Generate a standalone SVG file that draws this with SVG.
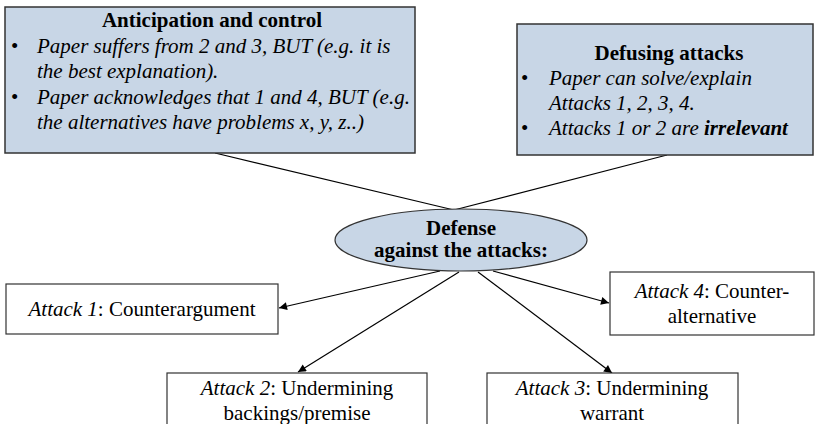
<svg xmlns="http://www.w3.org/2000/svg" width="815" height="424" viewBox="0 0 815 424">
<style>
text{font-family:'Liberation Serif',Tinos,'Times New Roman',Times,'DejaVu Serif','Noto Serif',serif;font-size:21px;fill:#000}
.b{font-weight:bold}
.i{font-style:italic}
.top{fill:#c8d6e6;stroke:#333;stroke-width:1.5}
.box{fill:#fff;stroke:#333;stroke-width:1.2}
.c{stroke:#000;stroke-width:1.2;fill:none}
</style>
<defs>
<marker id="ah" viewBox="0 0 10 10" refX="10" refY="5" markerWidth="11" markerHeight="8" markerUnits="userSpaceOnUse" orient="auto">
<path d="M0,0 L10,5 L0,10 z" fill="#000"/>
</marker>
</defs>
<rect width="815" height="424" fill="#fff"/>
<g id="connectors">
<line class="c" x1="215" y1="153" x2="454" y2="210"/>
<line class="c" x1="667" y1="155" x2="454" y2="210"/>
<line class="c" x1="440" y1="271" x2="279" y2="308" marker-end="url(#ah)"/>
<line class="c" x1="459" y1="272" x2="298" y2="372" marker-end="url(#ah)"/>
<line class="c" x1="478" y1="272" x2="612" y2="373" marker-end="url(#ah)"/>
<line class="c" x1="493" y1="271" x2="609" y2="303" marker-end="url(#ah)"/>
</g>
<g id="anticipation">
<rect class="top" x="5" y="7" width="410" height="146"/>
<text class="b" x="212" y="27" text-anchor="middle">Anticipation and control</text>
<text x="11" y="53">•</text>
<text class="i" x="37" y="53">Paper suffers from 2 and 3, BUT (e.g. it is</text>
<text class="i" x="37" y="78">the best explanation).</text>
<text x="11" y="104">•</text>
<text class="i" x="37" y="104">Paper acknowledges that 1 and 4, BUT (e.g.</text>
<text class="i" x="37" y="129">the alternatives have problems x, y, z..)</text>
</g>
<g id="defusing">
<rect class="top" x="517" y="24" width="296" height="131"/>
<text class="b" x="669" y="60" text-anchor="middle">Defusing attacks</text>
<text x="521" y="85">•</text>
<text class="i" x="549" y="85">Paper can solve/explain</text>
<text class="i" x="549" y="110">Attacks 1, 2, 3, 4.</text>
<text x="521" y="135">•</text>
<text class="i" x="549" y="135">Attacks 1 or 2 are <tspan class="b">irrelevant</tspan></text>
</g>
<g id="defense">
<ellipse cx="461" cy="240" rx="126" ry="31" fill="#c8d6e6" stroke="#333" stroke-width="1.2"/>
<text class="b" x="461" y="235" text-anchor="middle">Defense</text>
<text class="b" x="461" y="257" text-anchor="middle">against the attacks:</text>
</g>
<g id="attack1">
<rect class="box" x="6" y="284" width="272" height="50"/>
<text x="142" y="316" text-anchor="middle"><tspan class="i">Attack 1</tspan>: Counterargument</text>
</g>
<g id="attack2">
<rect class="box" x="167" y="373" width="260" height="60"/>
<text x="297" y="395" text-anchor="middle"><tspan class="i">Attack 2</tspan>: Undermining</text>
<text x="297" y="420" text-anchor="middle">backings/premise</text>
</g>
<g id="attack3">
<rect class="box" x="487" y="373" width="251" height="60"/>
<text x="612" y="395" text-anchor="middle"><tspan class="i">Attack 3</tspan>: Undermining</text>
<text x="612" y="420" text-anchor="middle">warrant</text>
</g>
<g id="attack4">
<rect class="box" x="610" y="272" width="204" height="63"/>
<text x="712" y="298" text-anchor="middle"><tspan class="i">Attack 4</tspan>: Counter-</text>
<text x="712" y="323" text-anchor="middle">alternative</text>
</g>
</svg>
